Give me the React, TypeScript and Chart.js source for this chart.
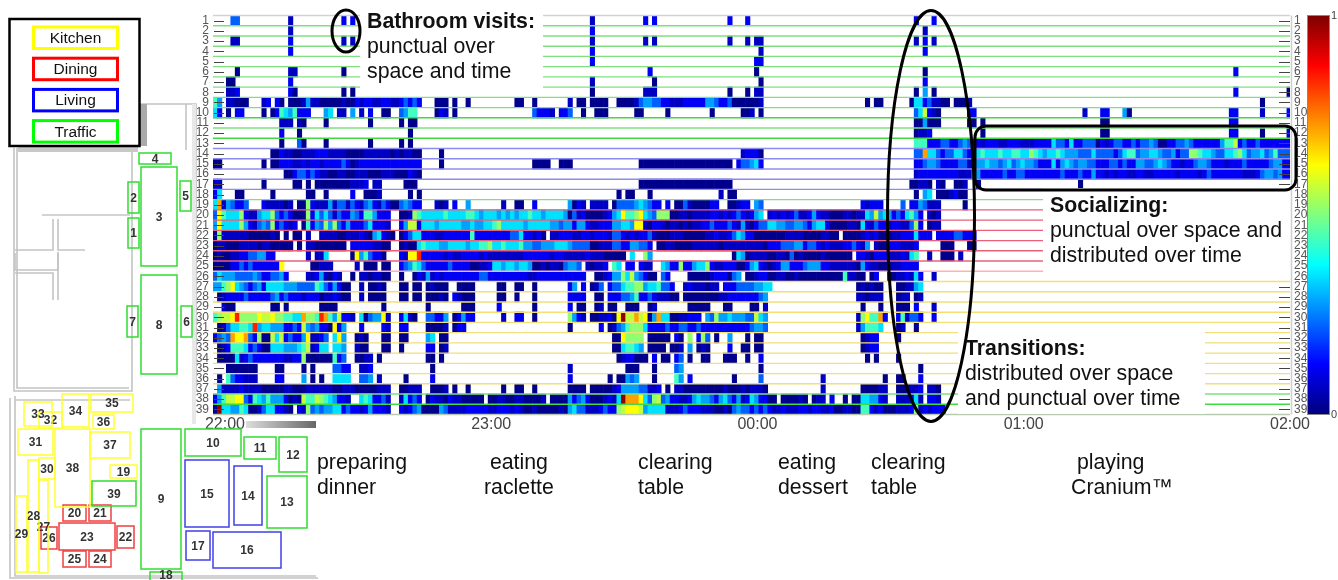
import React, { useEffect, useRef } from "react";
import { Chart, registerables } from "chart.js";

Chart.register(...registerables);

// Activity per sensor: "firstColumn:levels", one level code per minute column.
const sensorActivity: string[] = [
  "4:44 17:2 29:3 31:3 85:2 97:3 99:3 116:3 120:3 158:3 162:3",
  "17:2 85:3 160:2",
  "4:22 17:3 29:2 31:2 85:2 97:2 99:2 116:2 120:2 122:22 158:2 160:3 162:2",
  "17:3 85:3 123:2 160:3",
  "85:3 122:33",
  "5:1 17:22 29:1 98:3 122:1 160:1 230:3",
  "3:11 17:3 85:2 99:1 123:1 160:3",
  "3:223 17:31 29:1 31:1 85:1 97:222 116:1 120:1 122:22 158:1 160:5 162:1 230:3 242:1",
  "0:75 3:22111 11:23 14:3 15:1 17:1112 21:5 22:2211111211323322332234343 50:111 54:1 57:1 68:11 72:1 80:2 82:11 85:1111 91:11112 96:4554433222333335 112:54334 117:1111112 147:1 149:11 157:1 158:66342211 167:1112 236:1",
  "0:63 3:1 5:33 11:1 13:1 14:3 15:7657333 25:56 28:22 31:5 33:2 35:3 38:11 42:45 44:77 50:132 54:1 72:43332 78:334 83:1 86:111 95:11 102:1 112:1 119:112 123:1 158:469321 170:33 196:2 200:33 205:5 206:1 229:33 236:2 242:3",
  "15:222 19:21 25:1 35:1 42:1 44:11 158:11 160:5 161:111 170:11 173:1 200:11 229:33",
  "15:3 19:1 44:1 158:1223 173:1 200:11 229:33 236:1 242:2",
  "15:1 19:41 25:1 35:1 42:1 44:1 158:777 161:3334433454 171:332333223332223 186:3336443633 196:4441323443 206:3434454113 216:3445433333 226:3577934334 236:3333333",
  "13:11 15:32211222333222211112222221212211 51:1 119:23331 158:44b66 163:4344 167:66 169:433 172:67666766776687 186:6566765554 196:4464444346 206:7745566544 216:5344887665 226:4466786455 236:6457444",
  "0:11 11:1 13:11 15:33322323323333431233333333333333 51:1 72:1111 78:111 96:111111111111111111111 118:344563 158:3345543333442 172:55655456456554 186:3336356545 196:5443334434 206:3355445654 216:3323345543 226:3323334333 236:3345533",
  "16:1134434322112211222111222111321 158:2333333333222 171:55 173:3333343344333 186:333334333433533232332233223333323333234333333322234554533",
  "0:22 11:1 18:11 21:1 23:11111111222 34:3 36:22 43:111 96:111111111111111111111 157:11221 163:21 167:112 172:1 195:1",
  "0:36 5:11 13:1 21:11 25:1 31:3 34:1112 44:1 46:1 91:1 93:11 98:1 114:2 116:11 158:1 160:56 163:1112 167:311",
  "0:6b254334 11:3222212 19:11 21:8 22:3222 26:524424324532431145433 50:212 54:3 57:5 65:2 68:11 72:3 80:5132 85:2222 90:14444565433 102:3 104:1142111133 116:11233 122:54 146:32333 155:4 157:3354 161:222 169:1",
  "0:4a76668322566843431118364642433543775333 42:11287 47:6666676666776 60:56665656566766566665 80:142311112356a778a654888112212222332323432356 125:23232342235322 139:11122122 147:65 149:9 150:5653 154:436753 161:212",
  "0:5a66668532454834323 20:17354858435333463332 42:35993 47:6665666665565 60:56678666665666665545 80:53553 85:22333 90:55665 95:aa 97:21 99:332 102:12212122334333432521 122:344 125:66554455435663 139:1111221 146:6 147:324 150:33233 155:224 158:8 159:3 161:122",
  "0:18 2:2222221111121 16:1 18:11 21:2 24:222211222321 36:56 38:321 42:13466 47:33322333333 58:7 59:3 60:333333344 69:6 70:3323 74:1 76:22333223323332 90:4432323342 100:1112221111122322346533 122:111 125:1111222211112211 142:11112 147:32311122333 158:6 159:33 161:3 163:333344333",
  "0:122111222212211111 19:1 21:221111111 31:333332211 42:1211 46:6 47:7666556666566 60:7786676667 70:554455566654444 85:11222 90:443355443 100:1122111122222212222222221 125:33344455344323222334325 149:211333222 158:3 164:111 170:11",
  "0:12 2:1122 6:334 9:4553 13:3 21:2 23:22 25:6 31:1 32:a 33:5 34:7 35:433 38:1 42:32 44:aa 46:c 47:3333323223333 60:2322222222333333233222223 85:22211111 94:6 97:8 98:5 117:1 118:65 120:12222 125:11221 130:4 131:1211112111 141:111 145:332 148:133322232 157:6 158:7 161:2 164:111 168:2",
  "0:11 2:113 5:3434333333 15:a 22:11222 32:2 34:111 38:11 42:34 44:5 45:76 47:43333343333 58:11 60:22366 65:5665665 72:1121221 79:4554 84:21223 90:76 93:33 96:3 97:22 101:6533 105:8 106:33 108:566 111:8 112:3223331135632 125:12 127:3553334555 137:332222221 146:5 147:322111223333",
  "0:46 2:55544445 10:4334453 21:22 23:35 25:2132 31:1 33:2212211 42:1 45:13 47:2523233333333 60:443333333332233333333333 86:1123 90:55 92:8 93:6 94:9 95:543 98:11 101:43 107:11111 112:23331 117:45 120:11233 125:11221121111111111 142:7 143:2211 148:13 152:112232 158:6 159:3 162:2",
  "0:55 2:78 4:a 5:6543 9:453 12:6666 16:555 19:4444 23:76 25:43 27:53 29:11 33:2 35:1121 42:11 45:11 48:12111 55:1111 64:11 68:11 72:1 80:3 81:5 83:3 85:1 86:24 89:344 92:67 94:7885 98:66 100:7 101:443 106:23222122 115:33344445566 145:121211 154:1122 158:56",
  "1:123333433333 13:45 15:34333 20:2333 24:12232 29:11 33:2 35:1111 42:11 45:11 48:11121 54:32111 64:11 68:1 72:1 80:3333 86:11 89:333 92:445 95:7 96:334322211 106:1111111122333333345 145:221222 154:122 158:12",
  "2:211 13:11 16:1 24:1111 38:1 48:1 56:111 64:3 72:1 80:3 82:11 86:12 89:11 93:111 98:12 107:11111 115:11 121:11 124:2 146:1 150:1 154:111 158:3 162:2",
  "0:78 2:99 4:a 5:c 6:8888 10:a 11:99 13:a 14:88 16:7766 20:b 21:887 24:c 25:b 26:7 27:5 28:9 29:332 33:6 34:1 35:455 38:a 39:2 42:3 43:6 44:21 48:44 50:33 52:5 54:1 55:35 57:33 65:2 68:33 72:1 80:85 82:32 85:112231 91:a 92:d 93:99 95:b 96:9a 98:1 99:5 100:b 101:66 103:1122333 111:54 113:8 114:55655544 122:9 123:65 145:2 146:8 147:a 148:77 150:b 151:3 154:3 155:7 156:2443 162:3",
  "1:124 4:6 5:6776 9:c 10:566555 16:3343 20:9 21:545 24:33 26:1 27:a 28:3 29:5 33:3 38:32 42:33 48:11112 54:133 80:1 87:3 89:12 91:45 93:78886 98:333343344334333333333334554 145:2 146:57776 154:12 158:1",
  "0:3454 4:b 5:aab 8:43 10:8 11:11 13:9 14:6 15:9 16:3433 20:5 21:a 22:223 25:4 27:6 28:a 29:5 32:121 38:11 42:11 48:56 51:11 90:11 92:a 93:8888 98:111 101:11 104:31 107:8 109:38 111:4 113:1 116:5 120:1 122:11 146:1233 154:1",
  "1:1 2:23 4:7776 8:34 10:3 11:11 13:6665556 20:7 21:9 22:23 24:66 27:6 28:65 32:211 38:11 42:1 48:33 51:12 90:11 92:6776 96:5 98:1111 103:112 107:5 109:121 116:3 119:11 122:11 146:1233",
  "1:1111 5:6 6:23433333332233 20:8 21:111111 27:7 28:34 32:11 34:22 37:1 48:11 51:1 91:12331 96:11 99:3 101:11 104:34 107:1 110:11 115:111 120:1 123:3 147:1 149:1 154:1",
  "3:1111111 14:11 20:1 22:1 27:4433 33:223 49:1 80:2 93:111 99:1 104:45 123:1 159:1",
  "1:1 3:7 4:433222 14:33 20:5 22:1 24:1 27:6666 33:445 37:2 43:1 49:3 80:3 89:1 91:11 93:545 99:1 104:75 107:3 117:1 123:4 137:2 151:1 154:11 159:3",
  "1:5 2:22223222211111221 19:112222221122211111222 42:11222 49:1112 54:1 57:1 65:1 68:11 72:1 80:1111 85:1111123 92:555544 98:223 102:1 104:221111111112111212221 137:2 146:111122 154:111223 161:221",
  "0:35 2:799aa 7:43 9:7 10:65 12:7 13:555 16:3121 20:9 21:77 23:98 25:76 27:53 29:32 33:676 36:3342 42:2 43:6 44:343 48:132213221111 60:1 62:1122112211112 76:1111 80:53453 85:111232 91:6 92:d 93:bb 95:b 96:a 97:6 98:4 99:89 101:45 103:3322356554356435236533 125:11 128:111121 135:122 139:3 142:1 144:11 146:66553 151:2 154:2223 158:6 159:2 161:332",
  "0:1 1:d 2:665576 8:112 11:4 12:66 14:3321 19:32 21:8 22:454 25:55 27:66 29:34332353332 42:32345 47:1111 51:54 53:2222 57:3 58:33 60:33223332321121111121 80:56442223433 91:89aaa9 97:56666 102:222343332221121 117:45443434 125:322322233233223112211 146:77 148:3231 152:112223 158:8 159:2 160:32333",
];

const sensorLabels: string[] = Array.from({ length: 39 }, (_, i) => String(i + 1));
const hourTicks: number[] = [0, 60, 120, 180, 240];
const hourLabels: string[] = ["22:00", "23:00", "00:00", "01:00", "02:00"];
const firstColumnMinute = -2.7;

const levelCodes = "123456789abcd";
const levelColors: string[] = [
  "#00008c", "#0000c4", "#0000f5", "#0060ff", "#00a0ff", "#00e0ff", "#40ffc0",
  "#90ff70", "#c0ff40", "#ffff00", "#ffa000", "#ff2000", "#900000",
];

// Colours of the separators below each sensor row (38 inner + bottom).
const G = "#7fe07f", B = "#8c8cf0", R = "#e8607a", P = "#ffb0b4", Y = "#f2df78", DG = "#45d845";
const separatorColors: string[] = [
  G, G, G, G, G, G, G, G, G, DG, G, DG, B, B, B, B, B, G, R, R, R, R, R, R, P,
  Y, Y, Y, Y, Y, Y, Y, Y, Y, Y, Y, G, DG, "#b8cbb0",
];

type Cell = { x: [number, number]; y: string; level: number };
const cells: Cell[] = [];
sensorActivity.forEach((row, r) => {
  row.split(" ").forEach((seg) => {
    const [start, levels] = seg.split(":");
    if (!levels) return;
    [...levels].forEach((code, k) => {
      const c = Number(start) + k + firstColumnMinute;
      cells.push({ x: [c, c + 1], y: sensorLabels[r], level: levelCodes.indexOf(code) });
    });
  });
});

const rowPlugin = {
  id: "rowLines",
  afterDatasetsDraw(chart: any) {
    const { ctx, chartArea, scales } = chart;
    const y = scales.y;
    const step = y.getPixelForTick(1) - y.getPixelForTick(0);
    ctx.save();
    ctx.lineWidth = 1.4;
    ctx.strokeStyle = "#d4d4cc";
    ctx.beginPath();
    ctx.moveTo(chartArea.left, chartArea.top);
    ctx.lineTo(chartArea.right, chartArea.top);
    ctx.stroke();
    separatorColors.forEach((color, i) => {
      const py = y.getPixelForTick(i) + step / 2;
      ctx.strokeStyle = color;
      ctx.beginPath();
      ctx.moveTo(chartArea.left, py);
      ctx.lineTo(chartArea.right, py);
      ctx.stroke();
    });
    ctx.lineWidth = 1;
    ctx.strokeStyle = "#444";
    sensorLabels.forEach((_, i) => {
      const py = Math.round(y.getPixelForTick(i)) + 0.5;
      ctx.beginPath();
      ctx.moveTo(chartArea.left + 1, py);
      ctx.lineTo(chartArea.left + 11, py);
      ctx.moveTo(chartArea.right - 11, py);
      ctx.lineTo(chartArea.right, py);
      ctx.stroke();
    });
    ctx.strokeStyle = "#cfcfcf";
    ctx.lineWidth = 1.5;
    ctx.beginPath();
    ctx.moveTo(chartArea.right + 1.5, chartArea.top);
    ctx.lineTo(chartArea.right + 1.5, chartArea.bottom);
    ctx.stroke();
    ctx.restore();
  },
};

const sans = "'Liberation Sans', Arial, sans-serif";
const labelStyle: React.CSSProperties = {
  position: "absolute",
  font: `21.3px/24.8px ${sans}`,
  color: "#111",
  whiteSpace: "pre",
};

const roomColors = { k: "#ffff30", d: "#f04040", l: "#4040e8", t: "#30dc30" };
type Room = [string, keyof typeof roomColors, number, number, number, number];
const planRooms: Room[] = [
  ["1", "t", 128, 218, 11, 30], ["2", "t", 128, 182, 11, 31], ["3", "t", 141, 167, 36, 99],
  ["4", "t", 139, 153, 32, 11], ["5", "t", 180, 181, 11, 30], ["6", "t", 181, 306, 11, 31],
  ["7", "t", 127, 306, 11, 31], ["8", "t", 141, 275, 36, 99], ["9", "t", 141, 429, 40, 140],
  ["10", "t", 185, 429, 56, 27], ["11", "t", 244, 437, 32, 22], ["12", "t", 279, 437, 28, 35],
  ["13", "t", 267, 476, 40, 52], ["14", "l", 234, 466, 28, 59], ["15", "l", 185, 460, 44, 67],
  ["16", "l", 213, 532, 68, 36], ["17", "l", 186, 531, 24, 29], ["18", "t", 150, 572, 32, 14],
  ["19", "k", 110, 465, 27, 13], ["20", "d", 63, 505, 23, 16], ["21", "d", 89, 505, 22, 16],
  ["22", "d", 117, 526, 17, 22], ["23", "d", 59, 523, 56, 27], ["24", "d", 89, 551, 22, 16],
  ["25", "d", 63, 551, 23, 16], ["26", "d", 41, 527, 16, 22], ["27", "k", 39, 480, 9, 93],
  ["28", "k", 28, 460, 11, 112], ["29", "k", 16, 496, 11, 76], ["30", "k", 39, 458, 16, 21],
  ["31", "k", 18, 429, 35, 26], ["32", "k", 39, 412, 23, 16], ["33", "k", 24, 402, 28, 24],
  ["34", "k", 62, 394, 27, 33], ["35", "k", 91, 394, 42, 18], ["36", "k", 93, 415, 21, 14],
  ["37", "k", 90, 432, 40, 26], ["38", "k", 55, 429, 35, 78], ["39", "t", 92, 481, 44, 25],
];
const planWalls: string[] = [
  "M14 148V391H132V150", "M17 148V388H129", "M140 104H196V392", "M42 215H130",
  "M53 219V250H15", "M58 219V250H85", "M58 252V270H15V253", "M15 273H53V300",
  "M58 253V300", "M15 396V576H316", "M15 400H130", "M10 398V578H318", "M186 104V150",
];
const legendItems: [string, string][] = [
  ["Kitchen", "#ffff00"], ["Dining", "#ff0000"], ["Living", "#0000ff"], ["Traffic", "#00ff00"],
];
const phaseNotes: [number, string][] = [
  [317, "preparing\ndinner"], [484, " eating\nraclette"], [638, "clearing\ntable"],
  [778, "eating\ndessert"], [871, "clearing\ntable"], [1071, " playing\nCranium™"],
];

export default function App() {
  const ref = useRef<HTMLCanvasElement>(null);
  useEffect(() => {
    const chart = new Chart(ref.current!, {
      type: "bar",
      data: {
        labels: sensorLabels,
        datasets: [
          {
            data: cells as any,
            backgroundColor: (c: any) => levelColors[Math.max(0, (c.raw as Cell)?.level ?? 0)],
            barPercentage: 1,
            categoryPercentage: 1,
            borderWidth: 0,
          },
        ],
      },
      options: {
        indexAxis: "y",
        animation: false,
        responsive: false,
        layout: { padding: { left: 188, right: 26, top: 15.5, bottom: 135.5 } },
        plugins: { legend: { display: false }, tooltip: { enabled: false } },
        scales: {
          x: {
            type: "linear",
            min: firstColumnMinute,
            max: 240,
            grid: { display: false, drawTicks: false, tickLength: 0 },
            border: { display: false },
            afterBuildTicks: (s: any) => {
              s.ticks = hourTicks.map((value) => ({ value }));
            },
            afterFit: (s: any) => {
              s.height = 30;
            },
            ticks: {
              autoSkip: false,
              maxRotation: 0,
              padding: 0,
              color: "#444",
              font: { family: sans, size: 16 },
              callback: (v: any) => hourLabels[hourTicks.indexOf(Number(v))] ?? "",
            },
          },
          y: {
            type: "category",
            offset: true,
            grid: { display: false, drawTicks: false },
            border: { display: false },
            afterFit: (s: any) => {
              s.width = 25;
            },
            ticks: {
              autoSkip: false,
              padding: 4,
              color: "#555",
              font: { family: sans, size: 12 },
            },
          },
          y2: {
            type: "category",
            position: "right",
            display: true,
            labels: sensorLabels,
            offset: true,
            grid: { display: false, drawTicks: false },
            border: { display: false },
            afterFit: (s: any) => {
              s.width = 22;
            },
            ticks: {
              autoSkip: false,
              padding: 4,
              color: "#555",
              font: { family: sans, size: 12 },
            },
          },
        },
      } as any,
      plugins: [rowPlugin],
    });
    return () => chart.destroy();
  }, []);

  return (
    <div style={{ position: "fixed", left: 0, top: 0, width: 1338, height: 580, background: "#fff", overflow: "hidden", filter: "blur(0.45px)" }}>
      <canvas ref={ref} width={1338} height={580} style={{ position: "absolute", left: 0, top: 0, display: "block" }} />

      <div style={{ position: "absolute", left: 360, top: 10, width: 183, height: 85, background: "#fff" }} />
      <div style={{ position: "absolute", left: 1043, top: 188, width: 247, height: 89, background: "#fff" }} />
      <div style={{ position: "absolute", left: 958, top: 327, width: 247, height: 87, background: "#fff" }} />

      <div style={{ position: "absolute", left: 1307, top: 15, width: 21, height: 398, border: "1px solid #888", background: "linear-gradient(to top,#00007f 0%,#0000ff 12.5%,#00ffff 37.5%,#80ff80 50%,#ffff00 62.5%,#ff0000 87.5%,#7f0000 100%)" }} />
      <div style={{ position: "absolute", left: 1331, top: 9, font: `11px ${sans}`, color: "#444" }}>1</div>
      <div style={{ position: "absolute", left: 1331, top: 408, font: `11px ${sans}`, color: "#444" }}>0</div>

      <svg width={1338} height={580} style={{ position: "absolute", left: 0, top: 0 }}>
        <defs>
          <linearGradient id="bar" x1="0" x2="1" y1="0" y2="0">
            <stop offset="0" stopColor="#ddd" />
            <stop offset="1" stopColor="#666" />
          </linearGradient>
        </defs>
        {planWalls.map((d, i) => (
          <path key={i} d={d} fill="none" stroke="#c4c4c4" strokeWidth={1.6} />
        ))}
        <rect x={246} y={421} width={70} height={7} fill="url(#bar)" />
        <rect x={18} y={146} width={120} height={6} fill="#c8c8c8" />
        <rect x={139} y={104} width={8} height={42} fill="#aaa" />
        <rect x={192} y={104} width={4} height={320} fill="#e8e8e8" />
        {planRooms.map(([name, kind, x, y, w, h]) => (
          <g key={name}>
            <rect x={x} y={y} width={w} height={h} fill="none" stroke={roomColors[kind]} strokeWidth={1.5} />
            <text x={x + w / 2} y={Math.min(y + h / 2 + 4, 579)} textAnchor="middle" fontFamily={sans} fontWeight="bold" fontSize={12} fill="#333">
              {name}
            </text>
          </g>
        ))}
        <rect x={9.5} y={19} width={130} height={127} fill="#fff" stroke="#000" strokeWidth={2.5} />
        {legendItems.map(([name, color], i) => (
          <g key={name}>
            <rect x={33.5} y={27 + i * 31.2} width={84} height={21.5} fill="#fff" stroke={color} strokeWidth={3} />
            <text x={75.5} y={43 + i * 31.2} textAnchor="middle" fontFamily={sans} fontSize={15.5} fill="#111">
              {name}
            </text>
          </g>
        ))}
        <ellipse cx={346} cy={31} rx={14} ry={21} fill="none" stroke="#000" strokeWidth={3} />
        <ellipse cx={931} cy={216} rx={43.5} ry={205.5} fill="none" stroke="#000" strokeWidth={3} />
        <rect x={975} y={126} width={321} height={64} rx={11} fill="none" stroke="#000" strokeWidth={3} />
      </svg>

      <div style={{ ...labelStyle, left: 367, top: 9 }}>
        <b>Bathroom visits:</b>
        {"\npunctual over\nspace and time"}
      </div>
      <div style={{ ...labelStyle, left: 1050, top: 193 }}>
        <b>Socializing:</b>
        {"\npunctual over space and\ndistributed over time"}
      </div>
      <div style={{ ...labelStyle, left: 965, top: 336 }}>
        <b>Transitions:</b>
        {"\ndistributed over space\nand punctual over time"}
      </div>
      {phaseNotes.map(([x, text], i) => (
        <div key={i} style={{ ...labelStyle, left: x, top: 450 }}>
          {text}
        </div>
      ))}
    </div>
  );
}
